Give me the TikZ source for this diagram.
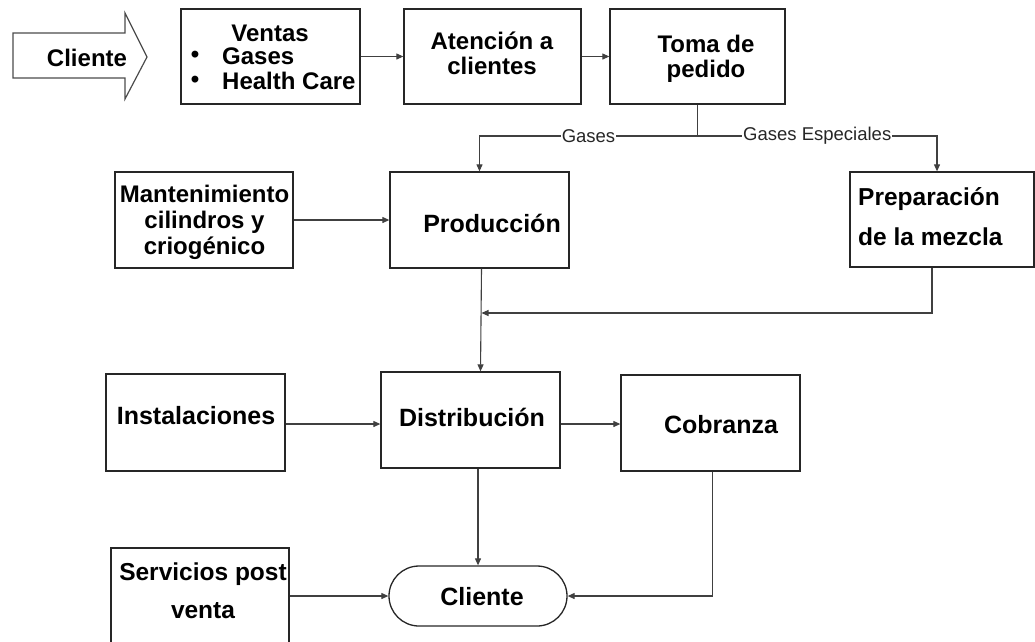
\documentclass[tikz,border=0pt]{standalone}
\usepackage{fontspec}
\setmainfont{Liberation Sans}
\usetikzlibrary{arrows.meta,shapes.misc,calc}
\begin{document}
\begin{tikzpicture}[x=1pt,y=-1pt,
  box/.style={draw=black!85,line width=1.3pt,inner sep=0pt},
  txt/.style={font=\fontsize{24}{25}\selectfont\bfseries,inner sep=0pt,align=center},
  conn/.style={draw=black!75,line width=1.1pt},
  arr/.style={conn,-{Triangle[length=7pt,width=6pt]}},
  lab/.style={font=\fontsize{18.5}{20}\selectfont,fill=white,inner sep=1pt,text=black!85}]
\useasboundingbox (0,0) rectangle (1035,641);

% incoming client arrow
\draw[draw=black!70,line width=1.2pt,line join=miter]
  (13,33) -- (125,33) -- (125,13) -- (147,57) -- (125,99) -- (125,78) -- (13,78) -- cycle;
\node[txt] (clientein) at (87,58) {Cliente};

% boxes
\node[box,minimum width=179pt,minimum height=95pt] (ventas) at (270.5,56.5) {};
\node[box,minimum width=177pt,minimum height=95pt] (atencion) at (492.5,56.5) {};
\node[box,minimum width=175pt,minimum height=95pt] (toma) at (697.5,56.5) {};
\node[box,minimum width=178pt,minimum height=96pt] (mant) at (204,220) {};
\node[box,minimum width=179pt,minimum height=96pt] (produccion) at (479.5,220) {};
\node[box,minimum width=184pt,minimum height=95pt] (prep) at (942,219.5) {};
\node[box,minimum width=179pt,minimum height=97pt] (inst) at (195.5,422.5) {};
\node[box,minimum width=179pt,minimum height=96pt] (distribucion) at (470.5,420) {};
\node[box,minimum width=179pt,minimum height=96pt] (cobranza) at (710.5,423) {};
\node[box,minimum width=178pt,minimum height=96pt] (servicios) at (200,596) {};
\node[box,rounded rectangle,minimum width=178pt,minimum height=60pt] (cliente) at (478,596) {};

% texts
\node[txt] (tventas) at (270,33) {Ventas};
\node[txt] (b1) at (195,57) {•};
\node[txt] (b2) at (195,82) {•};
\node[txt,anchor=west] (tgases) at (222,56) {Gases};
\node[txt,anchor=west] (thealth) at (222,81) {Health Care};
\node[txt] (tatencion) at (492,53) {Atención a\\clientes};
\node[txt] (ttoma) at (706,59) {Toma de\\pedido};
\node[txt,font=\fontsize{24}{26}\selectfont\bfseries] (tmant) at (204.5,222) {Mantenimiento\\cilindros y\\criogénico};
\node[txt,font=\fontsize{25}{26}\selectfont\bfseries] (tprod) at (492,223) {Producción};
\node[txt,align=left,anchor=west,font=\fontsize{24.5}{40}\selectfont\bfseries] (tprep) at (858,217) {Preparación\\de la mezcla};
\node[txt,font=\fontsize{25}{26}\selectfont\bfseries] (tinst) at (196,416) {Instalaciones};
\node[txt,font=\fontsize{25}{26}\selectfont\bfseries] (tdist) at (472,417) {Distribución};
\node[txt,font=\fontsize{25}{26}\selectfont\bfseries] (tcobr) at (721,425) {Cobranza};
\node[txt,font=\fontsize{25}{26}\selectfont\bfseries] (tcli) at (482,597) {Cliente};
\node[txt,font=\fontsize{24.5}{38}\selectfont\bfseries] (tserv) at (203,591) {Servicios post\\venta};

% connectors
\draw[arr] (ventas) -- (atencion);
\draw[arr] (atencion) -- (toma);
\coordinate (split) at (toma.south |- 0,136);
\draw[conn] (toma.south) -- (split);
\draw[arr] (split) -| node[lab,pos=0.25] (lgases) {Gases} (produccion.north);
\draw[arr] (split) -| node[lab,pos=0.25] (lgesp) {Gases Especiales} ($(prep.north)+(-5,0)$);
\draw[arr] (mant) -- (produccion);
\coordinate (merge) at ($(produccion.south |- 0,313)+(2,0)$);
\draw[arr] ($(produccion.south)+(2,0)$) -- ($(produccion.south |- distribucion.north)+(1,0)$);
\draw[arr] ($(prep.south)+(-10,0)$) |- (merge);
\draw[arr] (inst.east |- 0,424) -- (distribucion.west |- 0,424);
\draw[arr] (distribucion.east |- 0,424) -- (cobranza.west |- 0,424);
\draw[arr] (cliente.north |- distribucion.south) -- (cliente.north);
\draw[arr] ($(cobranza.south)+(2,0)$) |- (cliente.east);
\draw[arr] (servicios.east) -- (cliente.west);
\end{tikzpicture}
\end{document}
